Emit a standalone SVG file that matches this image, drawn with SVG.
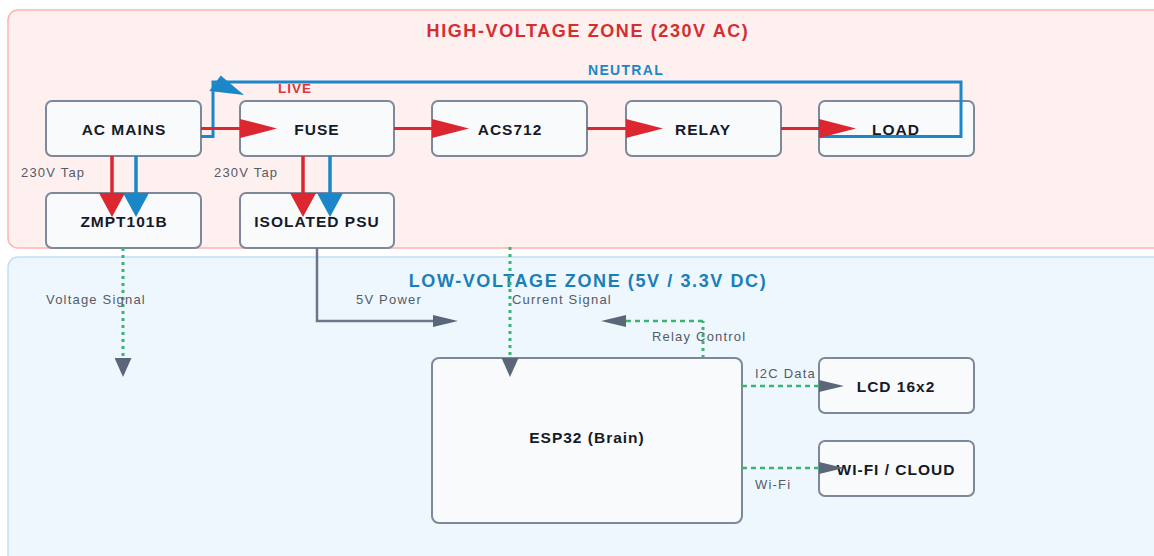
<svg xmlns="http://www.w3.org/2000/svg" width="1154" height="556" viewBox="0 0 1154 556">
<style>
.zone-hv{fill:#fff0f0;stroke:#ffb3b3;stroke-width:1.5}
.zone-lv{fill:#eff7fe;stroke:#bfe0f8;stroke-width:1.5}
.node rect{fill:#f8fafc;stroke:#7d8899;stroke-width:2}
.node text{font-family:"Liberation Sans",Arial,sans-serif;font-weight:bold;font-size:15.5px;fill:#151a28;text-anchor:middle;dominant-baseline:central;letter-spacing:1px}
.ztitle{font-family:"Liberation Sans",Arial,sans-serif;font-weight:bold;font-size:18px;letter-spacing:1.6px;text-anchor:middle;dominant-baseline:central}
.lbl{font-family:"Liberation Sans",Arial,sans-serif;font-size:13px;fill:#555b66;letter-spacing:1.2px;dominant-baseline:central}
.live{stroke:#dc2630;stroke-width:3;fill:none}
.tapr{stroke:#dc2630;stroke-width:3.5;fill:none}
.tapb{stroke:#1b87c9;stroke-width:3.5;fill:none}
.neutral{stroke:#1b87c9;stroke-width:3;fill:none}
.power{stroke:#6b7789;stroke-width:2.5;fill:none}
.sigv{stroke:#3cb371;stroke-width:3;fill:none;stroke-dasharray:3 4}
.sigh{stroke:#3cb371;stroke-width:2.5;fill:none;stroke-dasharray:5 4}
</style>
<defs>
<marker id="redH" markerUnits="userSpaceOnUse" markerWidth="37" markerHeight="19" viewBox="0 0 37 19" refX="0" refY="9.5" orient="auto"><path d="M0,0 L37,9.5 L0,19 Z" fill="#dc2630"/></marker>
<marker id="redV" markerUnits="userSpaceOnUse" markerWidth="24" markerHeight="26" viewBox="0 0 24 26" refX="0" refY="13" orient="auto"><path d="M0,0 L24,13 L0,26 Z" fill="#dc2630"/></marker>
<marker id="blueV" markerUnits="userSpaceOnUse" markerWidth="24" markerHeight="26" viewBox="0 0 24 26" refX="0" refY="13" orient="auto"><path d="M0,0 L24,13 L0,26 Z" fill="#1b87c9"/></marker>
<marker id="grayH" markerUnits="userSpaceOnUse" markerWidth="25" markerHeight="12" viewBox="0 0 25 12" refX="0" refY="6" orient="auto"><path d="M0,0 L25,6 L0,12 Z" fill="#5b6779"/></marker>
<marker id="grayV" markerUnits="userSpaceOnUse" markerWidth="19" markerHeight="17" viewBox="0 0 19 17" refX="0" refY="8.5" orient="auto"><path d="M0,0 L19,8.5 L0,17 Z" fill="#5b6779"/></marker>
</defs>

<g id="zones">
<rect class="zone-hv" x="8" y="10" width="1170" height="238" rx="10"/>
<rect class="zone-lv" x="8" y="257" width="1170" height="320" rx="10"/>
<text class="ztitle" x="588" y="31" fill="#d32f2f">HIGH-VOLTAGE ZONE (230V AC)</text>
<text class="ztitle" x="588" y="281" fill="#1a7fb8">LOW-VOLTAGE ZONE (5V / 3.3V DC)</text>
</g>

<g id="node-acmains" class="node"><rect x="46" y="101" width="155" height="55" rx="6"/><text x="124" y="129">AC MAINS</text></g>
<g id="node-fuse" class="node"><rect x="240" y="101" width="154" height="55" rx="6"/><text x="317" y="129">FUSE</text></g>
<g id="node-acs712" class="node"><rect x="432" y="101" width="155" height="55" rx="6"/><text x="510" y="129">ACS712</text></g>
<g id="node-relay" class="node"><rect x="626" y="101" width="155" height="55" rx="6"/><text x="703" y="129">RELAY</text></g>
<g id="node-load" class="node"><rect x="819" y="101" width="155" height="55" rx="6"/><text x="896" y="129">LOAD</text></g>
<g id="node-zmpt" class="node"><rect x="46" y="193" width="155" height="55" rx="6"/><text x="124" y="221">ZMPT101B</text></g>
<g id="node-psu" class="node"><rect x="240" y="193" width="154" height="55" rx="6"/><text x="317" y="221">ISOLATED PSU</text></g>
<g id="node-esp32" class="node"><rect x="432" y="358" width="310" height="165" rx="7"/><text x="587" y="437">ESP32 (Brain)</text></g>
<g id="node-lcd" class="node"><rect x="819" y="358" width="155" height="55" rx="6"/><text x="896" y="386">LCD 16x2</text></g>
<g id="node-wifi" class="node"><rect x="819" y="441" width="155" height="55" rx="6"/><text x="896" y="469">WI-FI / CLOUD</text></g>

<g id="connectors">
<path class="neutral" d="M819,136.5 H961 V82 H213 V136.5 H201"/>
<polygon points="220.7,75.5 209.3,91 244,95" fill="#1b87c9"/>
<path class="live" d="M201,128.5 H240" marker-end="url(#redH)"/>
<path class="live" d="M394,128.5 H432" marker-end="url(#redH)"/>
<path class="live" d="M587,128.5 H626" marker-end="url(#redH)"/>
<path class="live" d="M781,128.5 H819" marker-end="url(#redH)"/>
<path class="tapr" d="M112,156 V193" marker-end="url(#redV)"/>
<path class="tapb" d="M136,156 V193" marker-end="url(#blueV)"/>
<path class="tapr" d="M303,156 V193" marker-end="url(#redV)"/>
<path class="tapb" d="M330,156 V193" marker-end="url(#blueV)"/>
<path class="power" d="M317,248 V321 H433" marker-end="url(#grayH)"/>
<path class="sigv" d="M123,248 V358" marker-end="url(#grayV)"/>
<path class="sigv" d="M510,247 V358" marker-end="url(#grayV)"/>
<path class="sigv" d="M703,358 V321"/>
<path class="sigh" d="M703,321 H626" marker-end="url(#grayH)"/>
<path class="sigh" d="M742,386 H819" marker-end="url(#grayH)"/>
<path class="sigh" d="M742,468 H819" marker-end="url(#grayH)"/>
<text x="278" y="88" style="font-family:'Liberation Sans',Arial,sans-serif;font-weight:bold;font-size:13.5px;letter-spacing:1px;dominant-baseline:central" fill="#e0343c">LIVE</text>
<text x="588" y="70" style="font-family:'Liberation Sans',Arial,sans-serif;font-weight:bold;font-size:14px;letter-spacing:1.3px;dominant-baseline:central" fill="#1b87c9">NEUTRAL</text>
<text class="lbl" x="21" y="172">230V Tap</text>
<text class="lbl" x="214" y="172">230V Tap</text>
<text class="lbl" x="46" y="299">Voltage Signal</text>
<text class="lbl" x="356" y="299">5V Power</text>
<text class="lbl" x="512" y="299">Current Signal</text>
<text class="lbl" x="652" y="336">Relay Control</text>
<text class="lbl" x="755" y="373">I2C Data</text>
<text class="lbl" x="755" y="484">Wi-Fi</text>
</g>
</svg>
